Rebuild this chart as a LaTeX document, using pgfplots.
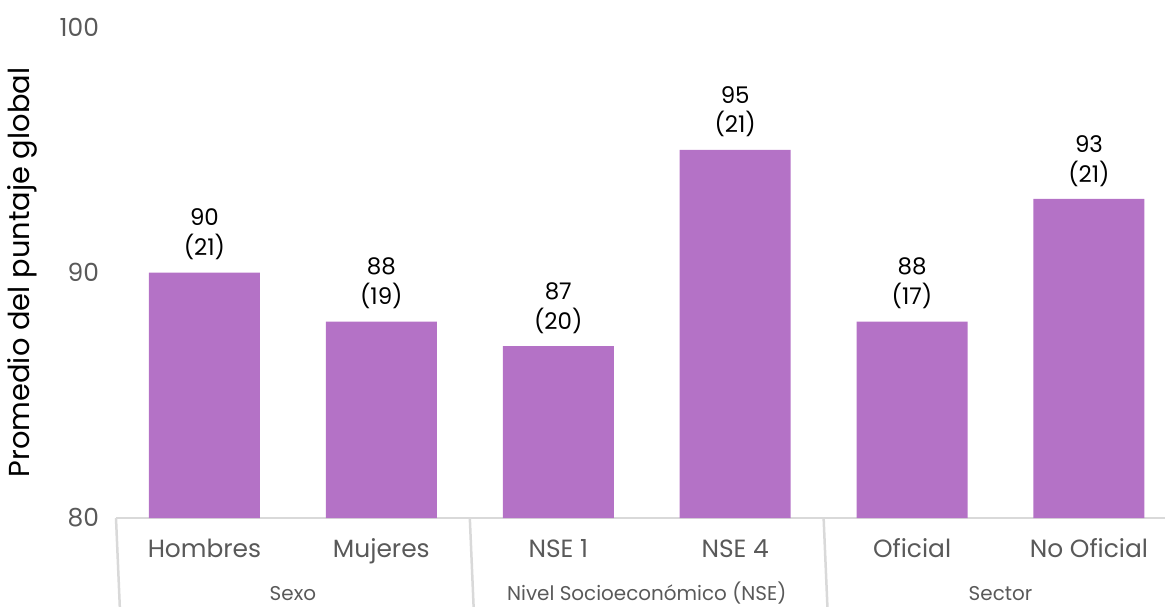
\documentclass[border=0pt]{standalone}
\usepackage{fontspec}
\setmainfont{Poppins}
\usepackage{pgfplots}
\usepackage{pgfplotstable}
\pgfplotsset{compat=1.18}
\definecolor{barpurple}{RGB}{180,114,198}
\definecolor{axgray}{RGB}{217,217,217}
\definecolor{txtgray}{RGB}{89,89,89}
\pgfplotstableread{
x y sd
0 90 21
1 88 19
2 87 20
3 95 21
4 88 17
5 93 21
}\datatable
\begin{document}
\begin{tikzpicture}
\useasboundingbox (0,0) rectangle (1165bp,607bp);
\begin{axis}[
  at={(116bp,89bp)}, anchor=south west,
  scale only axis, width=1049bp, height=491bp,
  xmin=-0.5, xmax=5.43, ymin=80, ymax=100,
  ytick={80,90,100},
  xtick={0,1,2,3,4,5},
  xticklabels={Hombres,Mujeres,NSE 1,NSE 4,Oficial,No Oficial},
  /pgf/number format/assume math mode=true,
  axis x line*=bottom, axis y line*=left,
  y axis line style={draw=none},
  x axis line style={draw=axgray, line width=2bp},
  major tick length=0pt,
  tick style={draw=none},
  yticklabel style={font=\fontsize{25}{25}\selectfont, text=txtgray, anchor=east, xshift=-13.5bp},
  xticklabel style={font=\fontsize{25}{25}\selectfont, text=txtgray, anchor=base, yshift=-39bp},
  ylabel={Promedio del puntaje global},
  ylabel style={font=\fontsize{29}{29}\selectfont, text=black, at={(axis description cs:-0.0896,0.5)}, anchor=center, rotate=0},
  ybar, bar width=111bp,
  clip=false,
]
\addplot[fill=barpurple, draw=none,
  visualization depends on={\thisrow{sd} \as \sdval},
  nodes near coords={\pgfmathprintnumber{\pgfplotspointmeta}\\(\pgfmathprintnumber{\sdval})},
  nodes near coords style={align=center, anchor=south, font=\fontsize{23}{30}\selectfont, text=black, yshift=9bp},
] table[x=x,y=y] {\datatable};
\draw[axgray, line width=2.5bp] (axis cs:-0.5,80) -- ++(0,-100bp);
\draw[axgray, line width=2.5bp] (axis cs:1.5,80) -- ++(0,-100bp);
\draw[axgray, line width=2.5bp] (axis cs:3.5,80) -- ++(0,-100bp);
\draw[axgray, line width=2.5bp] (axis cs:5.5,80) -- ++(0,-100bp);
\node[text=txtgray, font=\fontsize{20}{20}\selectfont, anchor=base] at (axis cs:0.5,80) [yshift=-82bp] {Sexo};
\node[text=txtgray, font=\fontsize{20}{20}\selectfont, anchor=base] at (axis cs:2.5,80) [yshift=-82bp] {Nivel Socioeconómico (NSE)};
\node[text=txtgray, font=\fontsize{20}{20}\selectfont, anchor=base] at (axis cs:4.5,80) [yshift=-82bp] {Sector};
\end{axis}
\end{tikzpicture}
\end{document}
